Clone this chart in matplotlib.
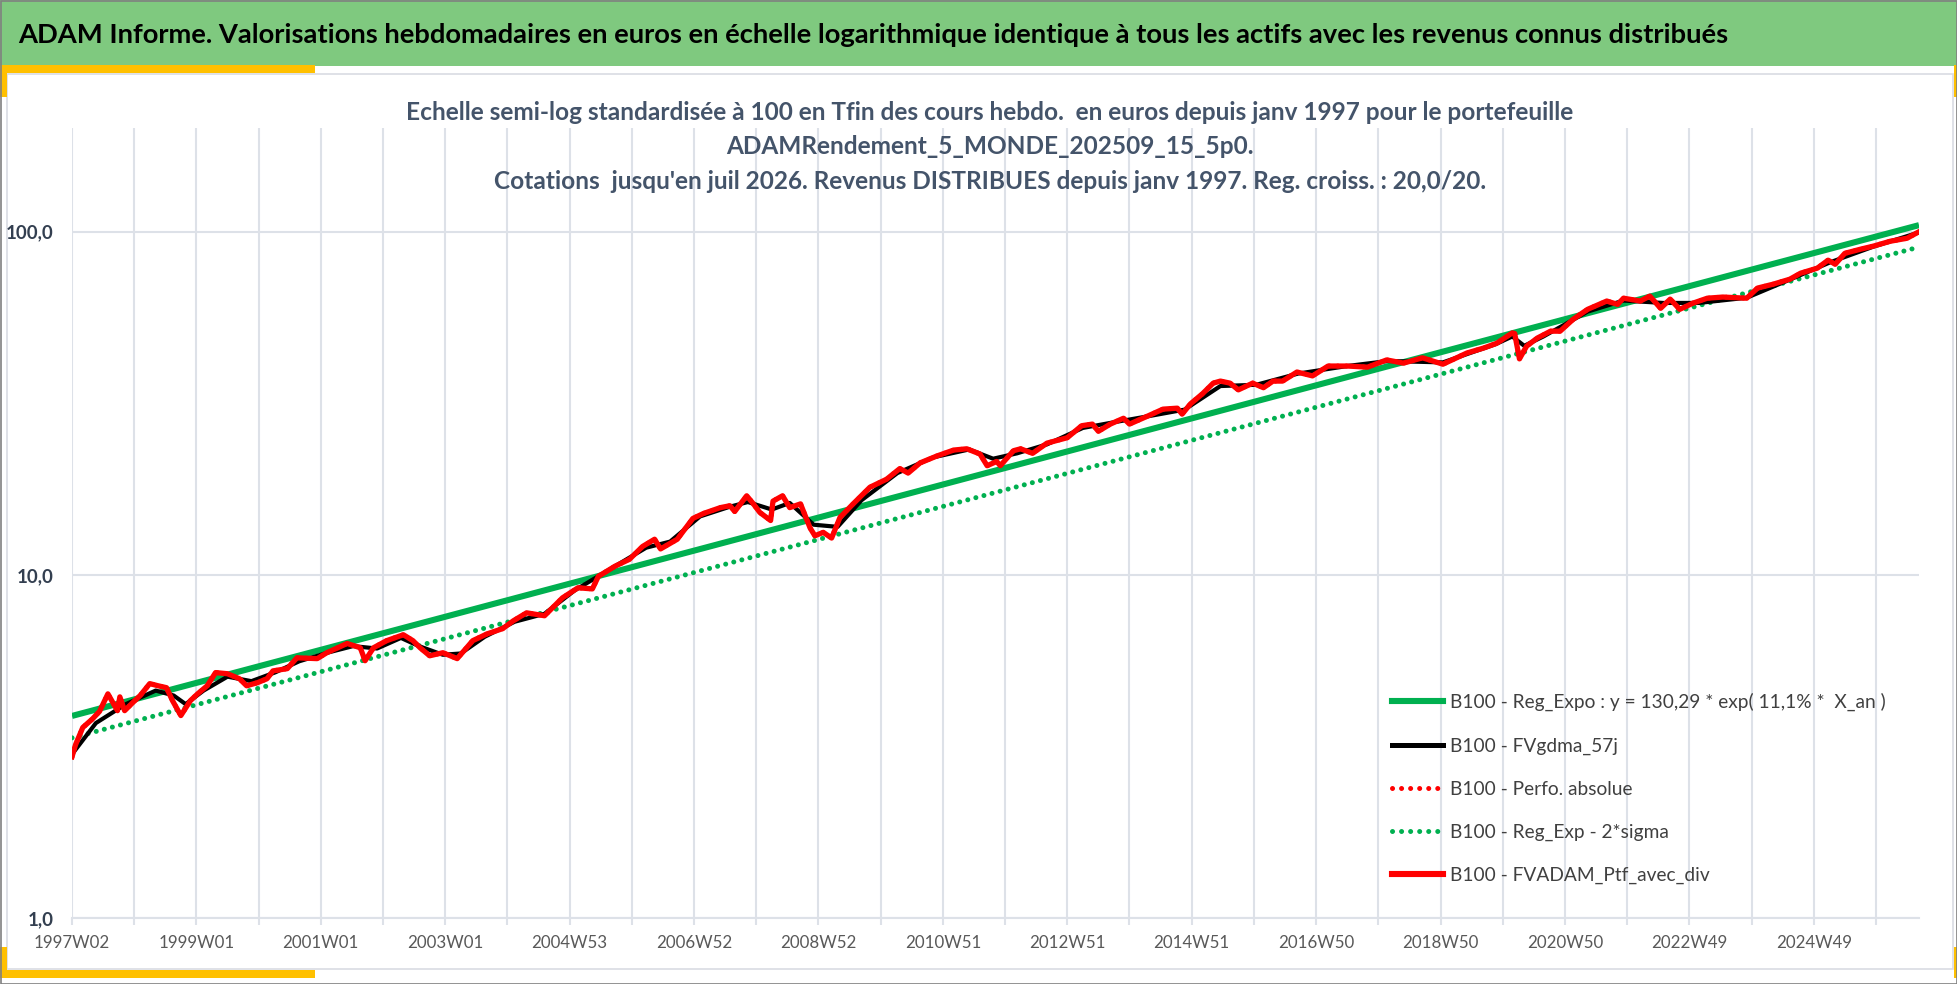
import matplotlib
matplotlib.use("Agg")
import matplotlib.pyplot as plt
from matplotlib.patches import Rectangle
from matplotlib.lines import Line2D

W, H = 1958, 984
FONT = ['Lato', 'DejaVu Sans']
plt.rcParams['font.family'] = FONT

title = ("ADAM Informe. Valorisations hebdomadaires en euros en échelle logarithmique "
         "identique à tous les actifs avec les revenus connus distribués")
subtitle = ("Echelle semi-log standardisée à 100 en Tfin des cours hebdo.  en euros depuis janv 1997 pour le portefeuille\n"
            "ADAMRendement_5_MONDE_202509_15_5p0.\n"
            "Cotations  jusqu'en juil 2026. Revenus DISTRIBUES depuis janv 1997. Reg. croiss. : 20,0/20.")

n_weeks = 1545
x_labels = ["1997W02", "1999W01", "2001W01", "2003W01", "2004W53", "2006W52", "2008W52",
            "2010W51", "2012W51", "2014W51", "2016W50", "2018W50", "2020W50", "2022W49", "2024W49"]

# portefeuille avec dividendes (semaine, valeur base 100)
ptf_weeks = [0, 3, 9, 17, 23, 30, 38, 40, 44, 51, 57, 65, 72, 79, 84, 91, 99, 105, 113, 120,
             130, 140, 146, 155, 163, 168, 180, 188, 205, 213, 230, 241, 245, 252, 263, 277, 285,
             291, 299, 310, 322, 335, 347, 360, 369, 380, 395, 410, 423, 435, 440, 454, 466, 477,
             487, 492, 506, 519, 528, 542, 550, 554, 564, 569, 575, 584, 586, 594, 600, 609, 617,
             621, 628, 635, 642, 653, 667, 681, 692, 699, 709, 723, 737, 748, 759, 765, 773, 776,
             787, 793, 803, 815, 832, 844, 853, 858, 868, 879, 884, 899, 912, 924, 928, 935, 945,
             954, 960, 968, 975, 987, 996, 1004, 1012, 1024, 1037, 1050, 1066, 1083, 1099, 1113,
             1129, 1146, 1166, 1180, 1191, 1204, 1206, 1210, 1216, 1225, 1236, 1244, 1255, 1267,
             1283, 1292, 1297, 1311, 1319, 1328, 1336, 1344, 1355, 1367, 1380, 1400, 1409, 1422,
             1436, 1445, 1459, 1468, 1474, 1482, 1495, 1506, 1520, 1534, 1544]
ptf_vals = [2.95, 3.2, 3.59, 3.8, 4.0, 4.5, 4.02, 4.41, 4.02, 4.25, 4.45, 4.82, 4.75, 4.69, 4.3,
            3.89, 4.3, 4.5, 4.75, 5.19, 5.15, 4.98, 4.75, 4.85, 4.98, 5.25, 5.33, 5.73, 5.7, 5.93,
            6.31, 6.13, 5.62, 6.13, 6.43, 6.69, 6.43, 6.13, 5.81, 5.93, 5.7, 6.43, 6.73, 6.97,
            7.35, 7.75, 7.6, 8.57, 9.17, 9.1, 9.9, 10.6, 11.1, 12.1, 12.7, 11.9, 12.7, 14.6, 15.1,
            15.7, 15.9, 15.3, 17.0, 16.2, 15.2, 14.4, 16.4, 17.0, 15.7, 16.1, 13.7, 13.0, 13.3,
            12.8, 14.7, 16.1, 18.0, 19.0, 20.4, 19.8, 21.2, 22.2, 23.1, 23.3, 22.5, 20.8, 21.4,
            20.8, 23.0, 23.3, 22.6, 24.2, 25.1, 27.2, 27.5, 26.2, 27.5, 28.6, 27.5, 29.0, 30.4,
            30.6, 29.4, 31.5, 33.7, 36.2, 36.7, 36.2, 34.6, 36.2, 35.1, 36.7, 36.7, 39.0, 38.0,
            40.6, 40.6, 40.3, 42.3, 41.4, 42.9, 41.1, 44.3, 45.8, 47.3, 50.7, 50.5, 42.6, 46.4,
            49.0, 51.3, 51.3, 55.6, 59.4, 62.8, 61.4, 64.0, 62.8, 64.9, 59.8, 63.6, 59.4, 61.9,
            64.0, 64.5, 64.0, 68.5, 70.3, 72.7, 75.7, 78.3, 82.6, 80.4, 86.5, 88.9, 90.8, 93.8,
            95.7, 100.0]

# moyenne mobile 57j (lissee)
mm_weeks = [0, 20, 45, 70, 85, 95, 110, 130, 150, 170, 190, 215, 235, 255, 275, 290, 310, 325,
            345, 370, 395, 420, 450, 480, 500, 525, 550, 565, 585, 600, 620, 640, 660, 690, 720,
            750, 770, 790, 815, 845, 870, 900, 930, 960, 990, 1025, 1066, 1100, 1146, 1190, 1204,
            1214, 1230, 1267, 1297, 1330, 1360, 1400, 1436, 1470, 1506, 1544]
mm_vals = [3.0, 3.7, 4.2, 4.6, 4.45, 4.2, 4.6, 5.05, 4.9, 5.2, 5.6, 5.95, 6.2, 6.1, 6.55, 6.2,
           5.85, 5.9, 6.6, 7.3, 7.7, 9.0, 10.4, 12.0, 12.5, 14.8, 15.8, 16.3, 15.5, 16.2, 14.0,
           13.8, 16.5, 19.8, 22.0, 23.2, 21.8, 22.6, 24.0, 26.8, 27.8, 29.0, 30.3, 35.5, 35.8,
           38.6, 40.6, 42.0, 41.6, 47.0, 49.5, 46.5, 49.5, 58.5, 63.0, 62.0, 62.0, 64.2, 72.5,
           81.5, 90.5, 99.5]

# droites de regression (extremites)
reg_weeks = [0, 1544]
reg_vals = [3.88, 104.5]
reg_2s_vals = [3.35, 90.2]

labels = ["B100 - Reg_Expo : y = 130,29 * exp( 11,1% *  X_an )",
          "B100 - FVgdma_57j",
          "B100 - Perfo. absolue",
          "B100 - Reg_Exp - 2*sigma",
          "B100 - FVADAM_Ptf_avec_div"]

GREEN = "#00B050"
RED = "#FF0000"
GRID = "#DDE1E8"
TXT = "#44546A"


def px_rect(fig, x0, y0, x1, y1, **kw):
    fig.add_artist(Rectangle((x0 / W, 1 - y1 / H), (x1 - x0) / W, (y1 - y0) / H,
                             transform=fig.transFigure, **kw))


fig = plt.figure(figsize=(W / 100, H / 100), dpi=100)
fig.patch.set_facecolor("white")

# cadre, bandeau et accents jaunes
px_rect(fig, 0, 0, 1958, 66, facecolor="#7FC97F", edgecolor="none", zorder=0)
px_rect(fig, 7, 74, 1953, 969, facecolor="white", edgecolor="#D9DCE3", lw=1.2, zorder=0)
px_rect(fig, 0, 65, 315, 73, facecolor="#FFC000", edgecolor="none", zorder=1)
px_rect(fig, 0, 65, 7, 97, facecolor="#FFC000", edgecolor="none", zorder=1)
px_rect(fig, 0, 970, 315, 978, facecolor="#FFC000", edgecolor="none", zorder=1)
px_rect(fig, 0, 947, 7, 978, facecolor="#FFC000", edgecolor="none", zorder=1)
px_rect(fig, 1954, 65, 1958, 97, facecolor="#FFC000", edgecolor="none", zorder=1)
px_rect(fig, 1954, 947, 1958, 978, facecolor="#FFC000", edgecolor="none", zorder=1)
px_rect(fig, 0.5, 0.5, 1957.5, 983.5, facecolor="none", edgecolor="#808080", lw=1.2, zorder=5)

fig.text(18 / W, 1 - 35 / H, title, fontsize=19.7, fontweight="bold", color="black",
         ha="left", va="center")
fig.text(990 / W, 1 - 147 / H, subtitle, fontsize=17.6, fontweight="bold", color=TXT,
         ha="center", va="center", linespacing=1.58)

ax = fig.add_axes([72 / W, 1 - 918 / H, (1919 - 72) / W, (918 - 128.4) / H])
ax.set_facecolor("none")
ax.set_yscale("log")
ax.set_ylim(1, 200)
ax.set_xlim(0, n_weeks - 1)

ax.plot(reg_weeks, reg_vals, color=GREEN, lw=4.4, solid_capstyle="butt", zorder=3)
ax.plot(mm_weeks, mm_vals, color="black", lw=3.0, zorder=4)
ax.plot(ptf_weeks, ptf_vals, color=RED, lw=3.6, ls=(0, (0.01, 1.7)),
        dash_capstyle="round", zorder=4)
ax.plot(reg_weeks, reg_2s_vals, color=GREEN, lw=3.6, ls=(0, (0.01, 1.66)),
        dash_capstyle="round", zorder=3)
ax.plot(ptf_weeks, ptf_vals, color=RED, lw=3.8, solid_joinstyle="round", zorder=5)

ax.set_yticks([1, 10, 100])
ax.set_yticklabels(["1,0", "10,0", "100,0"], fontsize=13.5, fontweight="bold", color="#333F50")
ax.yaxis.set_minor_locator(matplotlib.ticker.NullLocator())
ax.tick_params(axis="y", length=0, pad=13)

ax.set_xticks(range(0, n_weeks, 52))
xt = []
for i in range(len(ax.get_xticks())):
    xt.append(x_labels[i // 2] if i % 2 == 0 else "")
ax.set_xticklabels(xt, fontsize=12.2, color="#595959")
ax.tick_params(axis="x", length=5, color=GRID, width=1.5, pad=7)

ax.grid(True, which="major", color=GRID, lw=1.5)
ax.set_axisbelow(True)
for s in ["top", "right", "left"]:
    ax.spines[s].set_visible(False)
ax.spines["bottom"].set_color(GRID)
ax.spines["bottom"].set_linewidth(1.5)

handles = [
    Line2D([], [], color=GREEN, lw=4.4),
    Line2D([], [], color="black", lw=3.6),
    Line2D([], [], color=RED, lw=3.6, ls=(0, (0.01, 1.8)), dash_capstyle="round"),
    Line2D([], [], color=GREEN, lw=3.6, ls=(0, (0.01, 1.8)), dash_capstyle="round"),
    Line2D([], [], color=RED, lw=4.4),
]
fig.legend(handles, labels, loc="upper left", bbox_to_anchor=(1392 / W, 1 - 693 / H),
           frameon=False, fontsize=13.8, handlelength=2.65, handletextpad=0.35,
           labelspacing=1.36, labelcolor="#404040", borderaxespad=0, borderpad=0)

fig.savefig("out.png", dpi=100)
